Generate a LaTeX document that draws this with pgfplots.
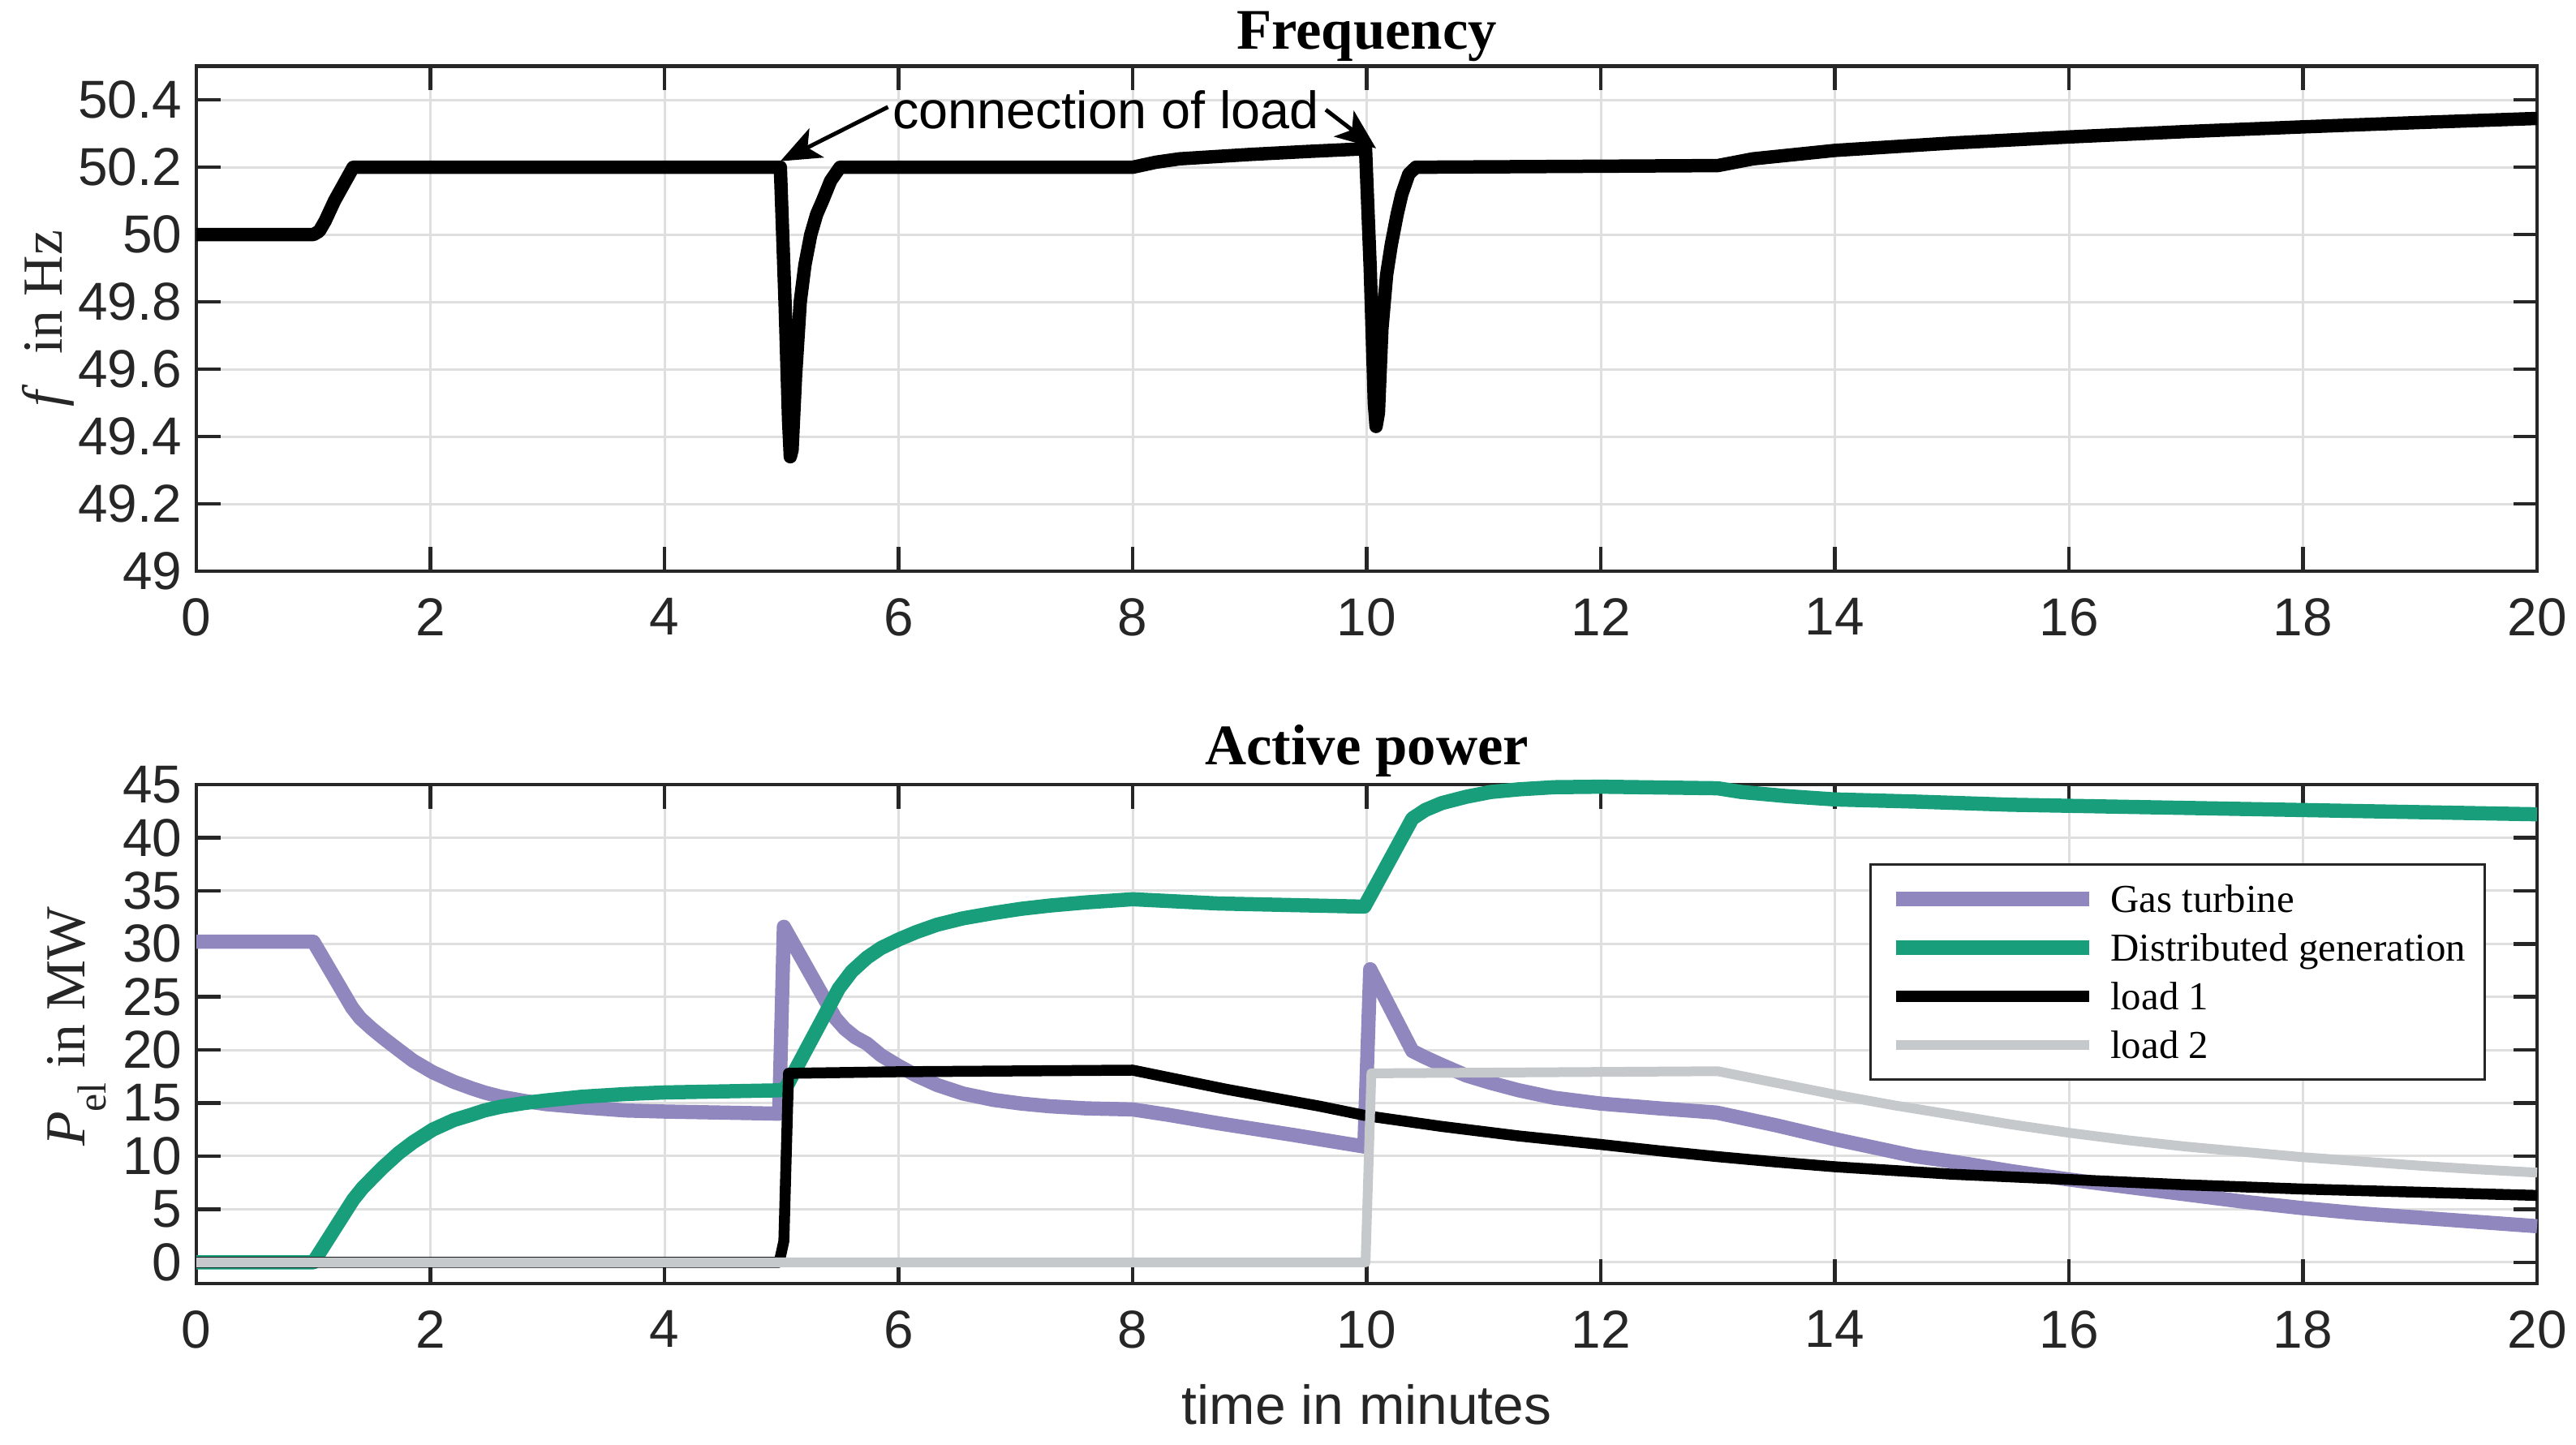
\documentclass[border=0pt]{standalone}
\usepackage{fontspec}
\setmainfont{Liberation Serif}
\newfontfamily\arialf{Liberation Sans}
\usepackage{pgfplots}
\pgfplotsset{compat=1.18}
\usetikzlibrary{arrows.meta}

\definecolor{gtc}{RGB}{143,135,189}
\definecolor{dgc}{RGB}{25,158,124}
\definecolor{ltwo}{RGB}{198,201,203}
\definecolor{axc}{RGB}{38,38,38}
\definecolor{gridc}{RGB}{223,223,223}

\pgfplotsset{
  myaxis/.style={
    scale only axis, anchor=south west, width=577bp,
    xmin=0, xmax=20, xtick={0,2,...,20},
    axis line style={draw=axc, line width=0.9bp},
    tick style={draw=axc, line width=0.9bp},
    major tick length=5.9bp, tick align=inside,
    xmajorgrids, ymajorgrids,
    major grid style={draw=gridc, line width=0.6bp},
    ticklabel style={font=\arialf\fontsize{13.2}{15}\selectfont, text=axc},
    /pgf/number format/assume math mode=true,
    xticklabel style={yshift=-3.1bp},
    every axis title shift=0pt,
    title style={at={(0.5,1)}, anchor=base, font=\bfseries\fontsize{14.2}{16}\selectfont, text=black},
    ylabel style={font=\fontsize{14}{16}\selectfont, text=axc, anchor=base},
  }
}

\begin{document}
\begin{tikzpicture}
\useasboundingbox (0,0) rectangle (635bp,356.2bp);

% ---------------- Frequency ----------------
\begin{axis}[myaxis,
  at={(48.4bp,215.4bp)}, height=124.46bp,
  ymin=49, ymax=50.5,
  ytick={49,49.2,49.4,49.6,49.8,50,50.2,50.4},
  title={Frequency},
  title style={yshift=4.3bp},
  ylabel={\textit{f}\hspace{4bp} in Hz},
  ylabel style={at={([xshift=-33.2bp]axis description cs:0,0.5)}},
]
\addplot[black, line width=3.3bp, line join=round] coordinates {
(0,50.0)(1.0,50.0)(1.05,50.01)(1.1,50.04)(1.18,50.1)(1.26,50.15)(1.34,50.2)
(4.99,50.2)(5.03,49.8)(5.06,49.45)(5.075,49.34)(5.09,49.36)(5.12,49.58)(5.16,49.8)
(5.2,49.91)(5.25,50.0)(5.3,50.06)(5.35,50.1)(5.42,50.16)(5.5,50.2)
(8.0,50.2)(8.2,50.215)(8.4,50.225)(9.0,50.238)(9.5,50.247)(9.99,50.255)
(10.03,49.9)(10.065,49.5)(10.08,49.43)(10.1,49.47)(10.13,49.72)(10.17,49.88)
(10.21,49.97)(10.26,50.06)(10.3,50.12)(10.36,50.18)(10.42,50.2)
(13.0,50.205)(13.3,50.225)(14,50.25)(15,50.272)(16,50.29)(17,50.306)(18,50.32)(19,50.333)(20,50.345)
};
\node[anchor=base, font=\arialf\fontsize{13}{15}\selectfont, inner sep=0pt]
  at (axis cs:7.77,50.314) {connection of load};
\draw[line width=1bp, -{Stealth[length=10bp,width=8bp,inset=2.5bp]}]
  (axis cs:5.91,50.379) -- (axis cs:4.99,50.218);
\draw[line width=1bp, -{Stealth[length=10bp,width=8bp,inset=2.5bp]}]
  (axis cs:9.65,50.371) -- (axis cs:10.08,50.256);
\end{axis}

% ---------------- Active power ----------------
\begin{axis}[myaxis,
  at={(48.4bp,39.8bp)}, height=123bp,
  ymin=-2, ymax=45,
  ytick={0,5,...,45},
  clip=false,
  title={Active power},
  title style={yshift=5.0bp},
  xlabel={time in minutes},
  xlabel style={at={(axis description cs:0.5,0)}, anchor=base, yshift=-34.6bp,
    font=\arialf\fontsize{13.6}{16}\selectfont, text=axc},
  ylabel={\textit{P}\raisebox{-5.2bp}{\fontsize{10}{10}\selectfont el}\ in MW},
  ylabel style={at={([xshift=-27.4bp,yshift=1.9bp]axis description cs:0,0.5)}},
  legend cell align=left,
  legend style={at={(1,1)}, anchor=north east, xshift=-12.6bp, yshift=-19.3bp,
    draw=axc, line width=0.7bp, fill=white,
    inner xsep=4.6bp, inner ysep=2.5bp, column sep=3.6bp, row sep=0pt,
    font=\fontsize{9.8}{12}\selectfont,
    nodes={inner sep=0pt, text height=9.3bp, text depth=2.7bp}},
  legend image code/.code={\path (0bp,0bp) -- (0.8bp,0bp);
    \draw[#1] (0.8bp,0bp) -- (47.5bp,0bp);},
]
\addplot[gtc, line width=3.5bp, line join=round] coordinates {
(0,30.2)(1.0,30.2)(1.33,24.0)(1.4,23.0)(1.5,22.0)(1.6,21.1)(1.73,20.0)(1.85,19.0)(2.02,17.9)
(2.2,17.0)(2.35,16.4)(2.46,16.0)(2.6,15.6)(2.8,15.2)(2.99,14.9)(3.3,14.6)(3.67,14.3)
(4.0,14.2)(4.5,14.1)(4.98,14.0)
(5.02,31.6)(5.46,23.0)(5.54,22.0)(5.63,21.2)(5.73,20.6)(5.85,19.5)(6.0,18.5)(6.15,17.6)
(6.33,16.7)(6.55,15.9)(6.81,15.3)(7.05,14.95)(7.29,14.7)(7.6,14.5)(8.0,14.4)
(8.3,13.9)(8.73,13.1)(9.37,12.0)(9.98,10.9)
(10.03,27.6)(10.39,19.9)(10.5,19.3)(10.64,18.6)(10.85,17.6)(11.06,16.9)(11.3,16.2)(11.6,15.5)
(12,14.95)(12.5,14.5)(12.99,14.1)(13.5,12.9)(14,11.6)(14.68,10.0)(15,9.5)(15.5,8.6)(16,7.8)
(16.5,7.1)(17,6.4)(17.5,5.7)(18,5.1)(18.5,4.6)(19,4.2)(19.5,3.8)(20,3.4)
};
\addlegendentry{Gas turbine}
\addplot[dgc, line width=3.5bp, line join=round] coordinates {
(0,0)(1.0,0)(1.34,5.9)(1.42,7.0)(1.5,7.9)(1.6,9.0)(1.73,10.3)(1.85,11.3)(2.02,12.5)(2.2,13.4)
(2.35,13.9)(2.46,14.3)(2.6,14.65)(2.8,15.0)(2.99,15.25)(3.3,15.6)(3.67,15.85)(4.0,16.0)
(4.5,16.1)(4.98,16.2)(5.03,16.3)
(5.49,25.8)(5.6,27.4)(5.73,28.7)(5.85,29.6)(6.0,30.4)(6.15,31.1)(6.33,31.8)(6.55,32.4)
(6.81,32.9)(7.05,33.3)(7.29,33.6)(7.6,33.9)(8.0,34.2)(8.73,33.8)(9.98,33.5)
(10.39,41.8)(10.5,42.6)(10.64,43.25)(10.85,43.85)(11.06,44.3)(11.3,44.55)(11.6,44.75)(12,44.8)
(13,44.65)(13.2,44.3)(13.6,43.9)(14,43.6)(14.68,43.4)(15.5,43.1)(16,43.0)(17,42.8)(18,42.6)
(19,42.4)(20,42.2)
};
\addlegendentry{Distributed generation}
\addplot[black, line width=2.7bp, line join=round] coordinates {
(0,0)(4.98,0)(5.02,2)(5.04,10)(5.06,17.8)(6,17.95)(8,18.1)(8.4,17.2)(8.8,16.3)(9.2,15.5)
(9.6,14.7)(10,13.8)(10.64,12.8)(11.3,11.9)(12,11.1)(12.5,10.5)(13,9.95)(13.5,9.45)(14,9.0)
(15,8.3)(16,7.8)(17,7.3)(18,6.9)(19,6.6)(20,6.3)
};
\addlegendentry{load 1}
\addplot[ltwo, line width=2.4bp, line join=round] coordinates {
(0,0)(9.99,0)(10.04,17.8)(13,18.0)(13.5,16.9)(14,15.8)(14.5,14.8)(15,13.9)(15.5,13.0)
(16,12.2)(16.5,11.5)(17,10.9)(17.5,10.4)(18,9.9)(18.5,9.5)(19,9.1)(19.5,8.75)(20,8.45)
};
\addlegendentry{load 2}
\end{axis}
\end{tikzpicture}
\end{document}
